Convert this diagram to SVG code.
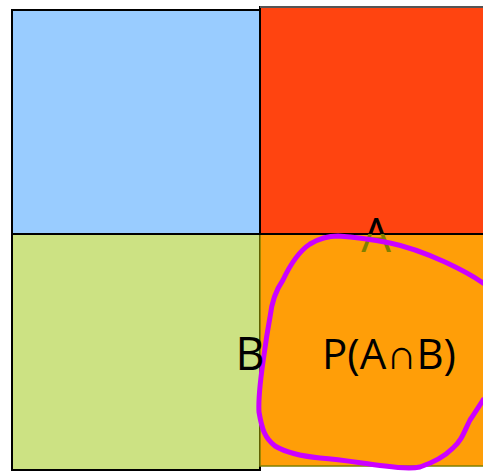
<svg xmlns="http://www.w3.org/2000/svg" width="483" height="472" viewBox="0 0 483 472">
<style>
.lbl{font-family:"Open Sans","Liberation Sans",sans-serif;fill:#000}
</style>
<defs>
<clipPath id="topc"><rect x="0" y="0" width="483" height="234"/></clipPath>
<clipPath id="botc"><rect x="0" y="234" width="483" height="238"/></clipPath>
</defs>
<rect width="483" height="472" fill="#fff"/>
<g id="blue"><rect x="12" y="10" width="248" height="224" fill="#99CCFF" stroke="#000" stroke-width="2"/></g>
<g id="green"><rect x="12" y="234" width="248" height="236" fill="#CCE283" stroke="#000" stroke-width="2"/></g>
<g id="red"><rect x="260" y="7" width="226" height="227" fill="#FF4410" stroke="#000" stroke-width="2"/><line x1="260" y1="7" x2="483" y2="7" stroke="#555" stroke-width="2"/></g>
<g id="orange"><rect x="260" y="234" width="226" height="232" fill="#FF9E08" stroke="#7F8000" stroke-width="1.5"/><line x1="12" y1="234" x2="483" y2="234" stroke="#000" stroke-width="2"/></g>
<g id="labelA">
<text class="lbl" x="376" y="252" font-size="47" text-anchor="middle" clip-path="url(#topc)">A</text>
<text class="lbl" x="376" y="252" font-size="47" text-anchor="middle" clip-path="url(#botc)" style="fill:#7F8000">A</text>
</g>
<g id="connectors">
<path d="M270,317 C272,300 276,290 283,280 C290,265 298,252 310,244 C320,238 328,236 338,236 C355,237 370,239 390,243 C410,247 425,253 445,262 C460,269 472,275 483,283 M483,400 C478,408 474,414 470,420 C464,432 462,440 453,448 C445,456 435,462 420,467 C410,469 400,468 385,466 C360,463 345,460 320,458 C300,456 285,452 275,446 C265,438 262,430 259,412 C258,395 261,375 264,355 C266,340 268,328 270,317" fill="none" stroke="#CC00FF" stroke-width="5" stroke-linecap="round" stroke-linejoin="round"/>
</g>
<g id="labelB"><text class="lbl" x="250" y="370" font-size="45" text-anchor="middle">B</text></g>
<g id="labelP"><text class="lbl" x="389" y="369" font-size="42" text-anchor="middle">P(A∩B)</text></g>
</svg>
